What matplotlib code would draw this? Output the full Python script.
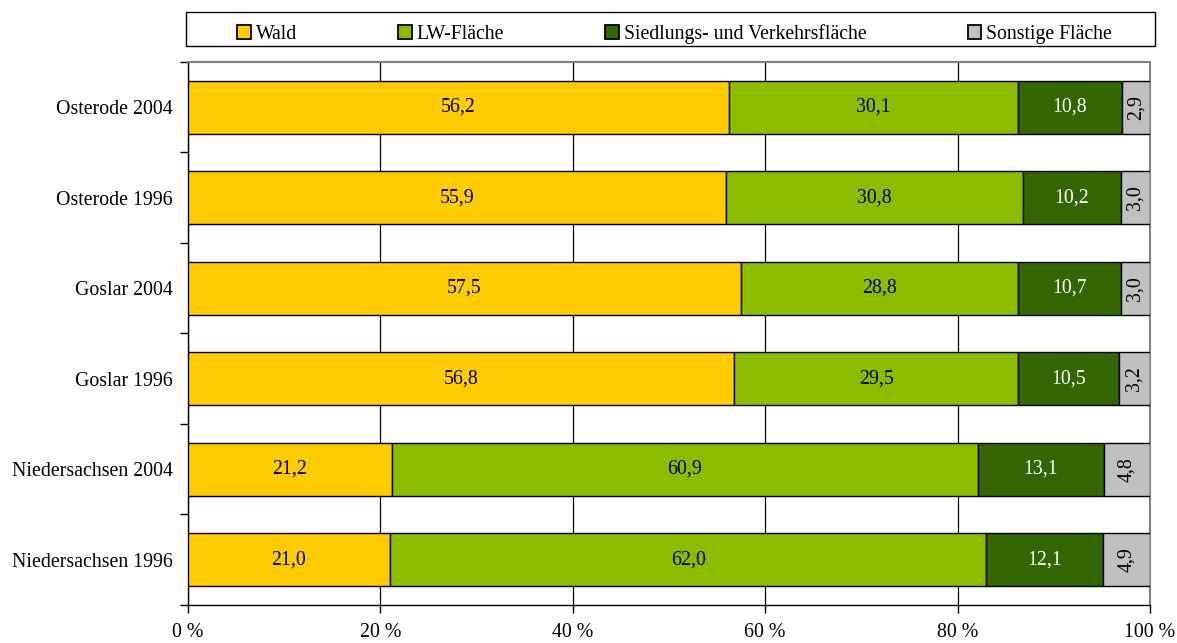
import numpy as np
import matplotlib
matplotlib.use("Agg")
import matplotlib.pyplot as plt
from matplotlib.patches import Rectangle, Patch

plt.rcParams['font.family'] = ['Liberation Serif', 'DejaVu Serif']

# ── Data (top to bottom as in the chart)
regions = ['Osterode 2004', 'Osterode 1996', 'Goslar 2004',
           'Goslar 1996', 'Niedersachsen 2004', 'Niedersachsen 1996']
wald      = [56.2, 55.9, 57.5, 56.8, 21.2, 21.0]
lw        = [30.1, 30.8, 28.8, 29.5, 60.9, 62.0]
siedlung  = [10.8, 10.2, 10.7, 10.5, 13.1, 12.1]
sonstige  = [2.9, 3.0, 3.0, 3.2, 4.8, 4.9]

series_names = ['Wald', 'LW-Fläche', 'Siedlungs- und Verkehrsfläche', 'Sonstige Fläche']
colors = ['#FFCC00', '#8CBC00', '#336600', '#C0C0C0']
text_colors = ['black', 'black', 'white', 'black']
rotations = [0, 0, 0, 90]
FS = 14.3

data = np.array([wald, lw, siedlung, sonstige], dtype=float)
# 100 % stacked, like the original spreadsheet chart
pct = data / data.sum(axis=0) * 100

fig = plt.figure(figsize=(11.77, 6.43), dpi=100)
ax = fig.add_axes([0.1597, 0.0591, 0.8173, 0.8445])

y = np.arange(len(regions))[::-1]
left = np.zeros(len(regions))
for i, name in enumerate(series_names):
    ax.barh(y, pct[i], left=left, height=0.59, color=colors[i],
            edgecolor='black', linewidth=1.0, label=name, zorder=3)
    for yy, l, w, v in zip(y, left, pct[i], data[i]):
        ax.text(l + w / 2, yy, f"{v:.1f}".replace('.', ','),
                ha='center', va='center', fontsize=FS,
                color=text_colors[i], rotation=rotations[i], zorder=4)
    left += pct[i]

ax.set_xlim(0, 100)
ax.set_ylim(-0.5, len(regions) - 0.5)

ax.set_xticks(np.arange(0, 101, 20))
ax.set_xticklabels([f"{t} %" for t in range(0, 101, 20)], fontsize=FS)
ax.tick_params(axis='x', direction='out', length=6, width=1, pad=7, colors='black')

ax.set_yticks(y)
ax.set_yticklabels(regions, fontsize=FS)
ax.set_yticks(np.arange(-0.5, len(regions), 1.0), minor=True)
ax.tick_params(axis='y', which='major', length=0, pad=11)
ax.tick_params(axis='y', which='minor', length=6, width=1, direction='out')

ax.grid(axis='x', color='black', linewidth=0.9, zorder=0)
for s in ['left', 'bottom']:
    ax.spines[s].set_color('black')
    ax.spines[s].set_linewidth(1.0)
for s in ['top', 'right']:
    ax.spines[s].set_color('#808080')
    ax.spines[s].set_linewidth(1.5)

# ── Legend in a box above the plot
fig.patches.append(Rectangle((186 / 1177, 1 - 46 / 643), (1155 - 186) / 1177, 34 / 643,
                             transform=fig.transFigure, facecolor='white',
                             edgecolor='black', linewidth=1.0))
handles = [Patch(facecolor=c, edgecolor='black', linewidth=1.3) for c in colors]
fig.legend(handles, series_names, loc='lower left', ncol=4, mode='expand',
           bbox_to_anchor=(237 / 1177, 1 - 44 / 643, (1112 - 237) / 1177, 30 / 643),
           frameon=False, fontsize=14.2, handlelength=0.7, handleheight=0.7,
           handletextpad=0.25, borderpad=0, borderaxespad=0)

fig.savefig('out.png', dpi=100)
